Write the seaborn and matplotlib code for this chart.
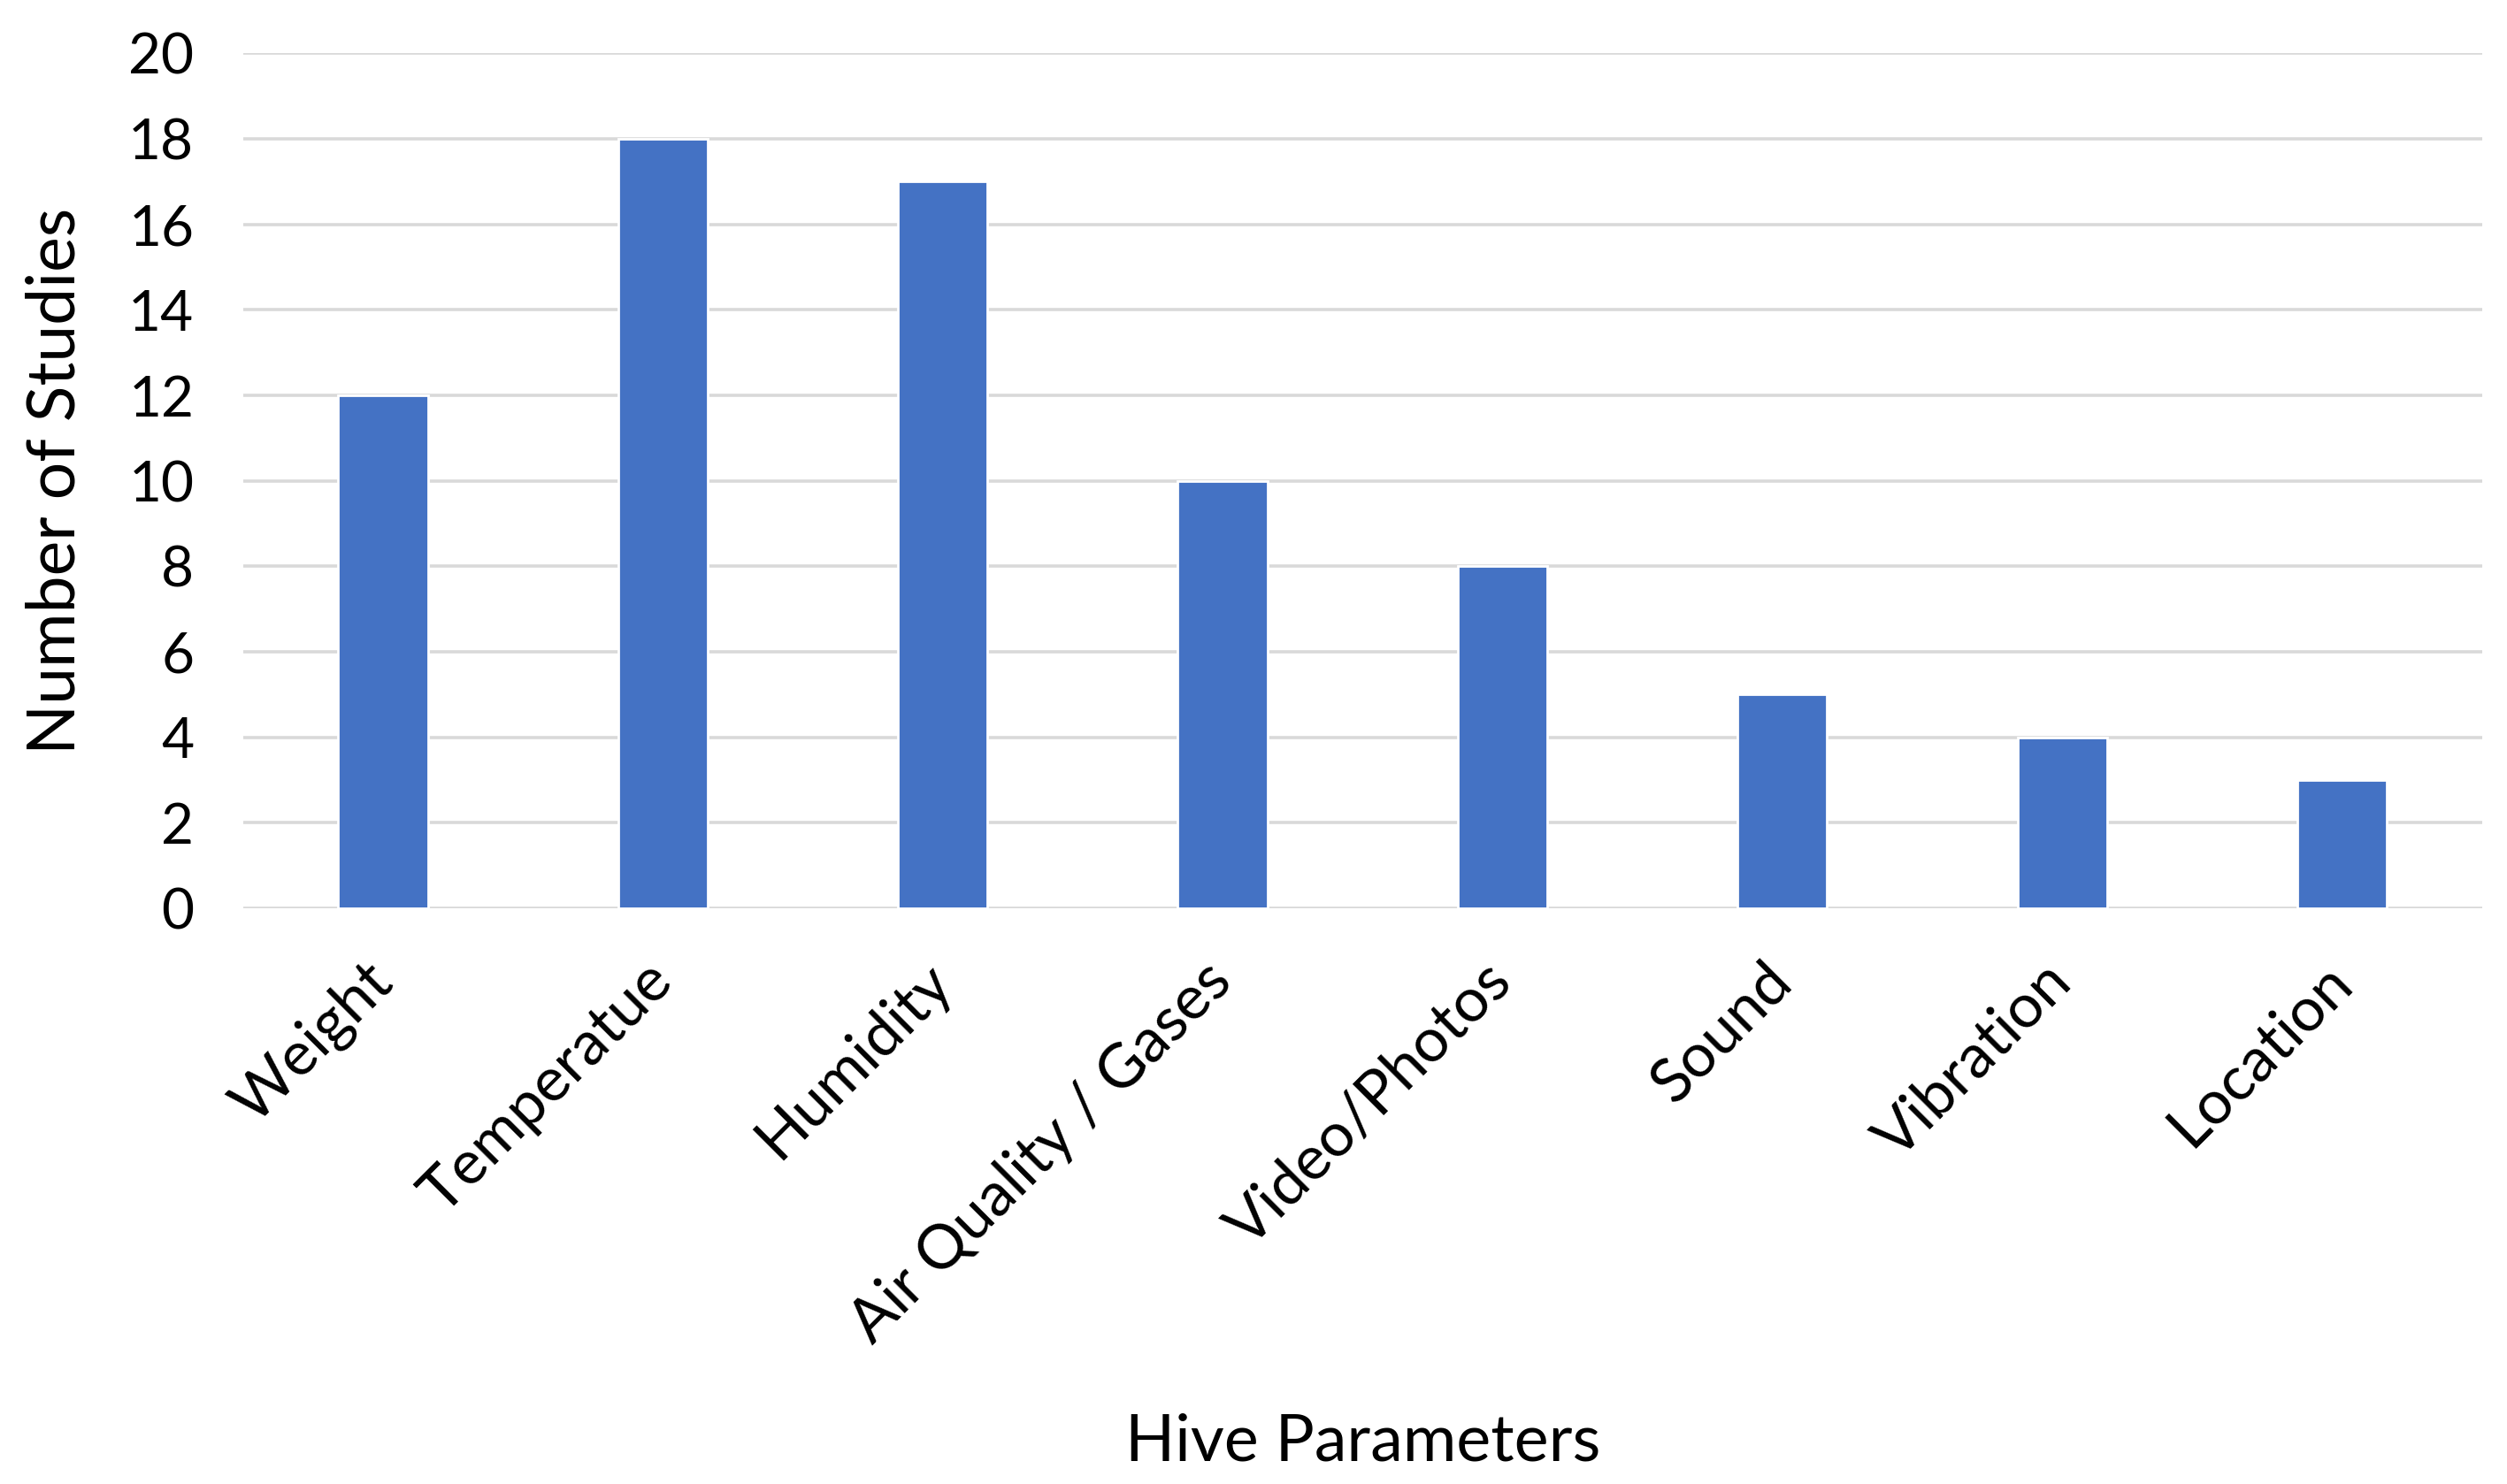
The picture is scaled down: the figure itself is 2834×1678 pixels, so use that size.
import matplotlib
matplotlib.use("Agg")
import matplotlib.pyplot as plt
import seaborn as sns
import pandas as pd

categories = ["Weight", "Temperatue", "Humidity", "Air Quality / Gases",
              "Video/Photos", "Sound", "Vibration", "Location"]
values = [12, 18, 17, 10, 8, 5, 4, 3]
y_ticks = [0, 2, 4, 6, 8, 10, 12, 14, 16, 18, 20]

sns.set_theme(style="white")
plt.rcParams['font.family'] = ['Lato', 'DejaVu Sans']

df = pd.DataFrame({"param": categories, "count": values})

fig = plt.figure(figsize=(14.17, 8.39), dpi=200)
ax = fig.add_axes([0.097, 0.388, 0.893, 0.576])

sns.barplot(data=df, x="param", y="count", color="#4472C4", saturation=1,
            width=0.32, ax=ax, zorder=3)

ax.set_ylim(0, 20)
ax.set_yticks(y_ticks)
ax.set_xlim(-0.5, len(categories) - 0.5)
ax.yaxis.grid(True, color="#d9d9d9", linewidth=1.3, zorder=0)
ax.set_axisbelow(True)
for s in ax.spines.values():
    s.set_visible(False)

ax.tick_params(axis="y", length=0, pad=20, labelsize=23, labelcolor="#000000")
ax.tick_params(axis="x", length=0, pad=26, labelsize=25, labelcolor="#000000")
for lab in ax.get_xticklabels():
    lab.set_rotation(45)
    lab.set_ha("right")
    lab.set_va("center")
    lab.set_rotation_mode("anchor")

ax.set_xlabel("Hive Parameters", fontsize=26.5, color="#000000")
ax.set_ylabel("Number of Studies", fontsize=27, color="#000000")
ax.xaxis.set_label_coords(0.5, -0.59)
ax.yaxis.set_label_coords(-0.07, 0.5)

fig.savefig("out.png", dpi=200, facecolor="white")
